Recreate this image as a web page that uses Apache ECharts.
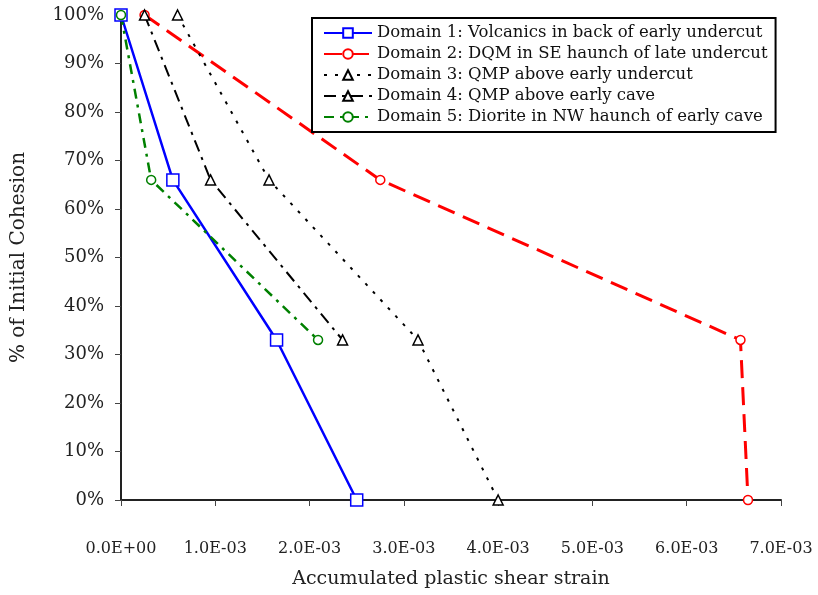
<!DOCTYPE html>
<html><head><meta charset="utf-8">
<script src="https://cdn.jsdelivr.net/npm/echarts@6/dist/echarts.min.js"></script>
<style>html,body{margin:0;padding:0;background:#fff}#c{width:818px;height:595px}</style>
</head><body><div id="c"></div>
<script>
var seriesNames = [
  'Domain 1: Volcanics in back of early undercut',
  'Domain 2: DQM in SE haunch of late undercut',
  'Domain 3: QMP above early undercut',
  'Domain 4: QMP above early cave',
  'Domain 5: Diorite in NW haunch of early cave'
];
var d1x = [0, 0.00055, 0.00165, 0.0025];
var d1y = [100, 66, 33, 0];
var d2x = [0.00025, 0.00275, 0.00657, 0.00665];
var d2y = [100, 66, 33, 0];
var d3x = [0.0006, 0.00157, 0.00315, 0.0040];
var d3y = [100, 66, 33, 0];
var d4x = [0.00025, 0.00095, 0.00235];
var d4y = [100, 66, 33];
var d5x = [0, 0.00032, 0.00209];
var d5y = [100, 66, 33];

function pairs(xs, ys){ return xs.map(function(x,i){ return [x, ys[i]]; }); }
function fmtE(v){
  if (Math.abs(v) < 1e-12) return '0.0E+00';
  var s = v.toExponential(1).toUpperCase();
  var m = s.split('E');
  var e = parseInt(m[1],10);
  var sign = e < 0 ? '-' : '+';
  var a = Math.abs(e);
  return m[0] + 'E' + sign + (a < 10 ? '0' + a : '' + a);
}
var serif = '"DejaVu Serif", "Liberation Serif", serif';
var chart = echarts.init(document.getElementById('c'));
function mk(name, data, color, lw, dash, sym, ssize){
  return {
    name: name, type: 'line', data: data,
    symbol: sym, symbolSize: ssize, showSymbol: true,
    lineStyle: {color: color, width: lw, type: dash},
    itemStyle: {color: '#fff', borderColor: color, borderWidth: 1.5},
    emphasis: {disabled: true}, animation: false, z: 3
  };
}
chart.setOption({
  animation: false,
  grid: {left: 121, right: 37, top: 15, bottom: 95},
  legend: {
    orient: 'vertical', left: 312, top: 18,
    backgroundColor: '#fff',
    borderColor: '#000', borderWidth: 2,
    padding: [5, 8, 5, 11],
    itemGap: 1, itemWidth: 48, itemHeight: 12,
    textStyle: {fontFamily: serif, fontSize: 16.5, color: '#111', lineHeight: 20},
    data: seriesNames
  },
  xAxis: {
    type: 'value', min: 0, max: 0.007, interval: 0.001,
    name: 'Accumulated plastic shear strain',
    nameLocation: 'middle', nameGap: 70,
    nameTextStyle: {fontFamily: serif, fontSize: 19, color: '#222'},
    axisLine: {show: true, onZero: false, lineStyle: {color: '#222', width: 2}},
    axisTick: {show: true, inside: false, length: 6, lineStyle: {color: '#444', width: 1}},
    splitLine: {show: false},
    axisLabel: {fontFamily: serif, fontSize: 16, color: '#222', margin: 41,
      formatter: function(v){ return fmtE(v); }}
  },
  yAxis: {
    type: 'value', min: 0, max: 100, interval: 10,
    name: '% of Initial Cohesion',
    nameLocation: 'middle', nameGap: 92, nameRotate: 90,
    nameTextStyle: {fontFamily: serif, fontSize: 20, color: '#222'},
    axisLine: {show: true, lineStyle: {color: '#222', width: 2}},
    axisTick: {show: true, inside: false, length: 6, lineStyle: {color: '#444', width: 1}},
    splitLine: {show: false},
    axisLabel: {fontFamily: serif, fontSize: 18, color: '#222', margin: 17,
      formatter: '{value}%'}
  },
  series: [
    mk(seriesNames[0], pairs(d1x, d1y), '#0000ff', 2.5, 'solid', 'rect', 12),
    mk(seriesNames[1], pairs(d2x, d2y), '#ff0000', 3, [18, 9], 'circle', 9),
    mk(seriesNames[2], pairs(d3x, d3y), '#000000', 2, [3, 8], 'triangle', 10),
    mk(seriesNames[3], pairs(d4x, d4y), '#000000', 2, [12, 6, 3, 6], 'triangle', 10),
    mk(seriesNames[4], pairs(d5x, d5y), '#008000', 2.5, [10, 6, 3, 6], 'circle', 9)
  ]
});
</script></body></html>
